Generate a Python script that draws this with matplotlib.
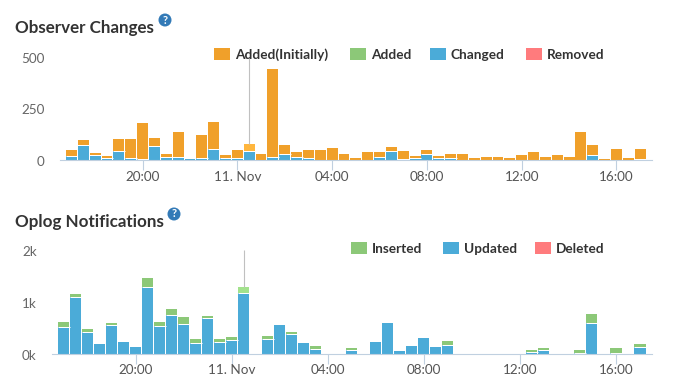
import matplotlib
matplotlib.use("Agg")
import matplotlib.pyplot as plt
from matplotlib.patches import Ellipse, Rectangle
from matplotlib.transforms import ScaledTranslation

plt.rcParams['font.family'] = ['Lato', 'DejaVu Sans']

W = 674
H = 387

# half hour slots, 0 is 17:00
tick_slots = [6, 14, 22, 30, 38, 46]
tick_labels = ['20:00', '11. Nov', '04:00', '08:00', '12:00', '16:00']
highlight = 15

# observer changes
changed = [22, 74, 26, 13, 45, 13, 8, 69, 18, 18, 6, 13, 54, 13, 13, 45, 0, 18, 30, 18, 13, 0, 0, 0, 0,
           0, 16, 45, 6, 11, 30, 11, 11, 0, 0, 0, 0, 0, 0, 0, 0, 0, 0, 0, 26, 0, 0, 0, 6]
added_init = [28, 24, 9, 8, 57, 89, 171, 38, 12, 118, 0, 109, 130, 13, 37, 33, 30, 425, 44, 22, 37, 50, 59, 30, 11,
              40, 24, 19, 39, 10, 20, 10, 19, 30, 11, 16, 16, 11, 26, 40, 16, 26, 16, 136, 48, 6, 54, 11, 48]

# oplog notifications
updated = [526, 1096, 423, 192, 558, 231, 135, 1288, 538, 750, 577, 212, 692, 231, 269, 1173, 0, 288, 558, 385,
           212, 96, 0, 0, 77, 0, 231, 596, 58, 154, 308, 135, 173, 0, 0, 0, 0, 0, 0, 38, 77, 0, 0, 19, 596, 0, 19, 0, 135]
inserted = [89, 58, 58, 0, 38, 0, 0, 173, 77, 115, 134, 76, 39, 57, 58, 115, 0, 58, 0, 38,
            0, 58, 0, 0, 38, 0, 0, 0, 0, 0, 0, 0, 77, 0, 0, 0, 0, 0, 0, 39, 38, 0, 0, 58, 173, 0, 96, 0, 57]

ORANGE = '#f0a02a'
ORANGE_HI = '#ffb63e'
GREEN = '#8cc878'
GREEN_HI = '#a2e28c'
BLUE = '#4babd8'
RED = '#ff7b7d'
AXIS = '#c0d0e0'


def make_axes(fig, left, right, top, bottom):
    ax = fig.add_axes([left / W, 1 - bottom / H, (right - left) / W, (bottom - top) / H])
    for s in ['top', 'left', 'right']:
        ax.spines[s].set_visible(False)
    ax.spines['bottom'].set_color(AXIS)
    ax.spines['bottom'].set_linewidth(0.8)
    ax.spines['bottom'].set_zorder(5)
    ax.set_xlim(-0.97, 49)
    ax.set_xticks(tick_slots)
    ax.set_xticklabels(tick_labels)
    ax.tick_params(axis='x', length=7, width=0.8, color=AXIS, labelcolor='#555555', labelsize=9.7, pad=0.5)
    ax.tick_params(axis='y', length=0, labelcolor='#666666', labelsize=9.7, pad=11)
    return ax


def stacked(ax, lower, upper, lower_col, upper_col, upper_hi):
    slots = range(len(lower))
    ax.bar(slots, lower, width=0.92, color=lower_col, linewidth=0)
    tops = ax.bar(slots, upper, width=0.92, bottom=lower, color=upper_col, linewidth=0)
    tops[highlight].set_facecolor(upper_hi)
    # white gap between the two parts of a stack
    for i in slots:
        if lower[i] > 0 and upper[i] > 0:
            ax.hlines(lower[i], i - 0.5, i + 0.5, color='white', linewidth=0.72, zorder=3)
    total = lower[highlight] + upper[highlight]
    ax.vlines(highlight, total, ax.get_ylim()[1], color='#c0c0c0', linewidth=0.8, zorder=1)


def legend(fig, items, y):
    # swatch left edge in pixels, label, colour
    for x, label, col in items:
        fig.add_artist(Rectangle((x / W, 1 - (y + 6) / H), 16 / W, 12 / H, color=col, lw=0))
        fig.text((x + 21) / W, 1 - (y + 1) / H, label, fontsize=9.85, fontweight='bold', color='#333333', va='center')


def heading(fig, text, x, y, qx, qy):
    fig.text(x / W, 1 - y / H, text, fontsize=12.25, fontweight='bold', color='#333333', va='center')
    fig.add_artist(Ellipse((qx / W, 1 - qy / H), 13 / W, 13 / H, color='#337ab7', lw=0))
    fig.text(qx / W, 1 - qy / H, '?', fontsize=8, fontweight='bold', color='white', va='center', ha='center')


fig = plt.figure(figsize=(W / 100, H / 100), dpi=100)

ax1 = make_axes(fig, 60, 652, 57, 160.4)
ax1.set_ylim(0, 500)
ax1.set_yticks([0, 250, 500])
stacked(ax1, changed, added_init, BLUE, ORANGE, ORANGE_HI)

ax2 = make_axes(fig, 52, 652, 250, 354)
ax2.set_ylim(0, 2000)
ax2.set_yticks([0, 1000, 2000])
ax2.set_yticklabels(['0k', '1k', '2k'])
stacked(ax2, updated, inserted, BLUE, GREEN, GREEN_HI)

# y labels sit a little below the value they mark
for ax in [ax1, ax2]:
    for lab in ax.get_yticklabels():
        lab.set_transform(lab.get_transform() + ScaledTranslation(0, -0.006, fig.dpi_scale_trans))

heading(fig, 'Observer Changes', 15, 28, 165, 20)
heading(fig, 'Oplog Notifications', 15, 222, 174, 214)

legend(fig, [(214, 'Added(Initially)', ORANGE), (350, 'Added', GREEN),
             (430, 'Changed', BLUE), (526, 'Removed', RED)], 54)
legend(fig, [(351, 'Inserted', GREEN), (443, 'Updated', BLUE), (535, 'Deleted', RED)], 248)

fig.savefig('out.png', dpi=100)
